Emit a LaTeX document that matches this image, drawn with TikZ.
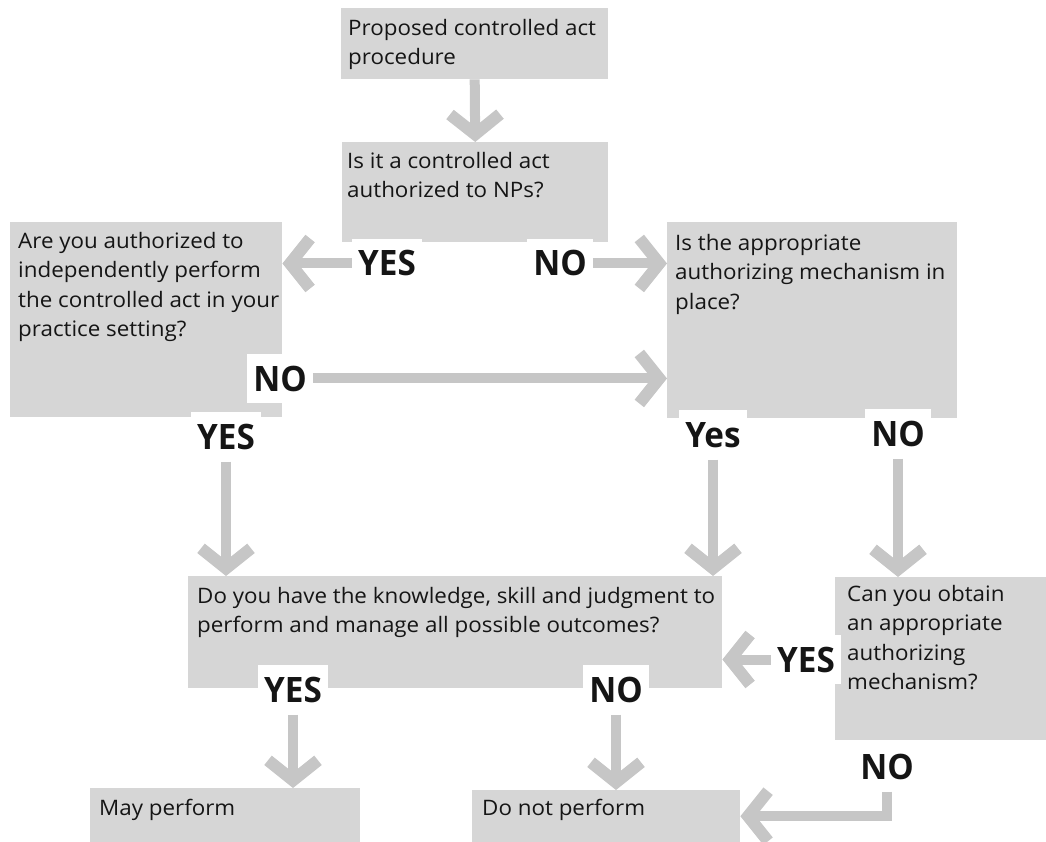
\documentclass[tikz,border=0pt]{standalone}
\usepackage{fontspec}
\setmainfont{Open Sans}[FakeStretch=1.05]
\newfontfamily\lblfont{Open Sans}[FakeStretch=0.95]
\usetikzlibrary{arrows.meta}
\definecolor{boxgray}{HTML}{D6D6D6}
\definecolor{arrgray}{HTML}{C6C6C6}
\definecolor{ink}{HTML}{151515}
\newcommand\flowtxt[3]{\parbox[t][#2][t]{#1}{\raggedright\strut #3}}
\begin{document}
\begin{tikzpicture}[x=1pt,y=-1pt,
  box/.style={fill=boxgray, draw=none, anchor=north west, text=ink,
    font=\fontsize{21.3}{29.5}\selectfont},
  lbl/.style={font=\lblfont\fontsize{35}{35}\selectfont\bfseries, text=ink, fill=white,
    inner xsep=6pt, inner ysep=12pt, anchor=base},
  garrow/.style={draw=arrgray, line width=10pt,
    -{Straight Barb[length=20pt,width=50pt,line width=12pt]}}]
\useasboundingbox (0,0) rectangle (1046,842);
% boxes
\node[box, inner xsep=7pt, inner ysep=6.35pt] (b1) at (341,8)
  {\flowtxt{253pt}{58.3pt}{\mbox{Proposed controlled act}\\\mbox{procedure}}};
\node[box, inner xsep=5pt, inner ysep=5.35pt] (b2) at (342,142)
  {\flowtxt{256pt}{89.3pt}{\mbox{Is it a controlled act}\\\mbox{authorized to NPs?}}};
\node[box, inner xsep=8pt, inner ysep=5.35pt] (b3) at (10,222)
  {\flowtxt{256pt}{184.3pt}{\mbox{Are you authorized to}\\\mbox{independently perform}\\\mbox{the controlled act in your}\\\mbox{practice setting?}}};
\node[box, inner xsep=8pt, inner ysep=7.35pt] (b4) at (667,222)
  {\flowtxt{274pt}{181.3pt}{\mbox{Is the appropriate}\\\mbox{authorizing mechanism in}\\\mbox{place?}}};
\node[box, inner xsep=9pt, inner ysep=6.35pt] (b5) at (188,576)
  {\flowtxt{516pt}{99.3pt}{\mbox{Do you have the knowledge, skill and judgment to}\\\mbox{perform and manage all possible outcomes?}}};
\node[box, inner xsep=12pt, inner ysep=3.35pt] (b6) at (835,577)
  {\flowtxt{187pt}{156.3pt}{\mbox{Can you obtain}\\\mbox{an appropriate}\\\mbox{authorizing}\\\mbox{mechanism?}}};
\node[box, inner xsep=9pt, inner ysep=6.35pt] (b7) at (90,788)
  {\flowtxt{252pt}{41.3pt}{\mbox{May perform}}};
\node[box, inner xsep=10pt, inner ysep=4.35pt] (b8) at (472,790)
  {\flowtxt{248pt}{43.3pt}{\mbox{Do not perform}}};
% labels
\node[lbl] (yes1) at (387,276) {YES};
\node[lbl] (no1) at (560,276) {NO};
\node[lbl] (no2) at (280,391) {NO};
\node[lbl] (yes2) at (226,449) {YES};
\node[lbl] (yes3) at (713,447) {Yes};
\node[lbl] (no3) at (898,446) {NO};
\node[lbl] (yes4) at (806,672) {YES};
\node[lbl] (yes5) at (293,702) {YES};
\node[lbl] (no4) at (616,702) {NO};
\node[lbl] (no5) at (887,779) {NO};
% arrows
\draw[garrow] (b1.south) -- (b2.north);
\draw[garrow] (yes1.west) -- (yes1.west -| b3.east);
\draw[garrow] (no1.east) -- (no1.east -| b4.west);
\draw[garrow] (no2.east) -- (no2.east -| b4.west);
\draw[garrow] (yes2.south) -- (yes2.south |- b5.north);
\draw[garrow] (yes3.south) -- (yes3.south |- b5.north);
\draw[garrow] (no3.south) -- (no3.south |- b6.north);
\draw[garrow] (yes4.west) -- (yes4.west -| b5.east);
\draw[garrow] (yes5.south) -- (yes5.south |- b7.north);
\draw[garrow] (no4.south) -- (no4.south |- b8.north);
\draw[garrow] (no5.south) |- (b8.east);
\end{tikzpicture}
\end{document}
